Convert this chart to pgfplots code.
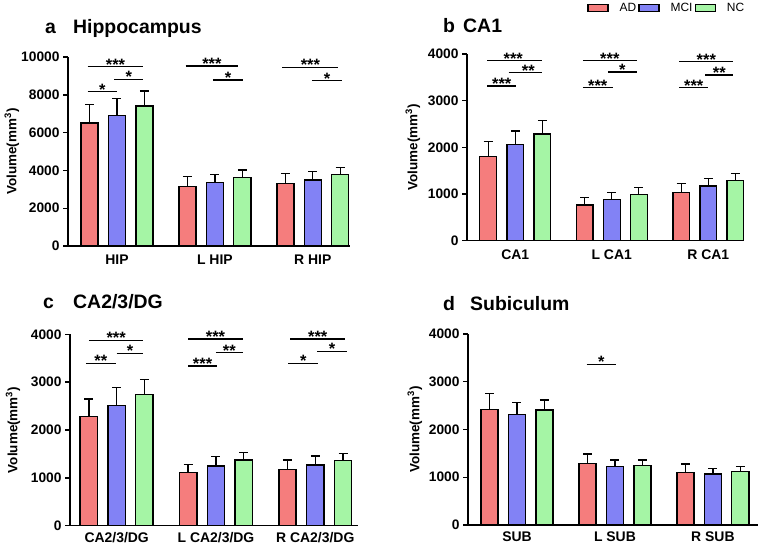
\documentclass[border=0pt]{standalone}
\usepackage{fontspec}
\setmainfont{Liberation Sans}
\usepackage{pgfplots}
\pgfplotsset{compat=1.18}
\definecolor{adred}{RGB}{245,125,125}
\definecolor{mciblue}{RGB}{130,130,245}
\definecolor{ncgreen}{RGB}{165,245,165}
\tikzset{stnode/.style={pos=0.5, anchor=base, yshift=-3.5bp, inner sep=0pt, text height=0.55em, text depth=0pt, font=\fontsize{16.5}{16}\selectfont\bfseries}}
\pgfplotsset{
 panel/.style={
  scale only axis, axis lines*=left, axis line style={line width=1.4bp},
  ymin=0, xtick={0,1,2}, xtick style={draw=none},
  tick align=outside, major tick length=5bp,
  ytick style={line width=1.4bp, black},
  yticklabel style={font=\fontsize{13.8}{14}\selectfont\bfseries},
  xticklabel style={font=\fontsize{14}{14}\selectfont\bfseries, yshift=-0.5bp},
  scaled y ticks=false,
  /pgf/number format/1000 sep={}, /pgf/number format/assume math mode=true,
  ylabel={Volume(mm\textsuperscript{3})},
  ylabel style={font=\fontsize{13.5}{14}\selectfont\bfseries, anchor=center},
  clip=false,
 },
 barp/.style={ybar, bar width=0.175, bar shift=0pt, fill=#1, draw=black, line width=1.4bp,
  error bars/.cd, y dir=plus, y explicit,
  error bar style={line width=1.4bp, black},
  error mark options={rotate=90, mark size=4.5bp, line width=1.4bp, black}},
 sig/.style={sharp plot, black, line width=1.4bp, mark=none, forget plot},
}
\begin{document}
\begin{tikzpicture}
\path[use as bounding box] (0,0) rectangle (759bp,-546bp);
% titles
\node[anchor=base west, inner sep=0, font=\fontsize{19.5}{20}\selectfont\bfseries] at (45bp,-33bp) {a};
\node[anchor=base west, inner sep=0, font=\fontsize{19.5}{20}\selectfont\bfseries] at (73bp,-33bp) {Hippocampus};
\node[anchor=base west, inner sep=0, font=\fontsize{19.5}{20}\selectfont\bfseries] at (443bp,-32bp) {b};
\node[anchor=base west, inner sep=0, font=\fontsize{19.5}{20}\selectfont\bfseries] at (463bp,-32bp) {CA1};
\node[anchor=base west, inner sep=0, font=\fontsize{19.5}{20}\selectfont\bfseries] at (43bp,-308bp) {c};
\node[anchor=base west, inner sep=0, font=\fontsize{19.5}{20}\selectfont\bfseries] at (73bp,-308bp) {CA2/3/DG};
\node[anchor=base west, inner sep=0, font=\fontsize{19.5}{20}\selectfont\bfseries] at (443bp,-310bp) {d};
\node[anchor=base west, inner sep=0, font=\fontsize{19.5}{20}\selectfont\bfseries] at (470bp,-310bp) {Subiculum};

% ---- a
\begin{axis}[panel, at={(68bp,-246bp)}, anchor=south west, width=282bp, height=189bp,
  xmin=-0.5, xmax=2.38, ymax=10000, ytick={0,2000,4000,6000,8000,10000},
  xticklabels={HIP, L HIP, R HIP},
  ylabel style={at={(axis description cs:-0.199,0.5)}}]
\addplot[barp=adred] coordinates {(-0.28,6500) +- (0,1000) (0.72,3150) +- (0,520) (1.72,3320) +- (0,530)};
\addplot[barp=mciblue] coordinates {(0,6900) +- (0,900) (1,3350) +- (0,440) (2,3490) +- (0,440)};
\addplot[barp=ncgreen] coordinates {(0.28,7400) +- (0,800) (1.28,3610) +- (0,410) (2.28,3790) +- (0,370)};
\addplot[sig] coordinates {(-0.30,9490) (0.27,9490)} node[stnode]{***};
\addplot[sig] coordinates {(-0.03,8820) (0.27,8820)} node[stnode]{*};
\addplot[sig] coordinates {(-0.30,8160) (0.0,8160)} node[stnode]{*};
\addplot[sig] coordinates {(0.70,9520) (1.24,9520)} node[stnode]{***};
\addplot[sig] coordinates {(0.98,8780) (1.29,8780)} node[stnode]{*};
\addplot[sig] coordinates {(1.69,9450) (2.26,9450)} node[stnode]{***};
\addplot[sig] coordinates {(1.99,8750) (2.30,8750)} node[stnode]{*};
\end{axis}

% ---- b
\begin{axis}[panel, at={(467bp,-240.7bp)}, anchor=south west, width=276bp, height=186.7bp,
  xmin=-0.5, xmax=2.36, ymax=4000, ytick={0,1000,2000,3000,4000},
  xticklabels={CA1, L CA1, R CA1},
  ylabel style={at={(axis description cs:-0.196,0.5)}},
  legend columns=3,
  legend style={draw=none, fill=none, at={(axis description cs:0.72,1.245)}, anchor=center,
    inner sep=0pt, outer sep=0pt,
    font=\fontsize{12}{12}\selectfont,
    nodes={inner xsep=0pt, inner ysep=1bp},
    /tikz/every even column/.append style={column sep=2bp}},
  legend image code/.code={\draw[#1, line width=1.4bp] (0bp,-3.5bp) rectangle (20bp,3.5bp); \path (31bp,0);}]
\addplot[barp=adred] coordinates {(-0.28,1800) +- (0,320) (0.72,765) +- (0,156) (1.72,1037) +- (0,184)};
\addplot[barp=mciblue] coordinates {(0,2065) +- (0,285) (1,887) +- (0,141) (2,1172) +- (0,165)};
\addplot[barp=ncgreen] coordinates {(0.28,2286) +- (0,285) (1.28,994) +- (0,150) (2.28,1286) +- (0,158)};
\legend{AD, MCI, NC}
\addplot[sig] coordinates {(-0.29,3857) (0.28,3857)} node[stnode, xshift=-1.5bp]{***};
\addplot[sig] coordinates {(-0.07,3600) (0.28,3600)} node[stnode, xshift=3bp]{**};
\addplot[sig] coordinates {(-0.29,3314) (0.01,3314)} node[stnode]{***};
\addplot[sig] coordinates {(0.70,3857) (1.26,3857)} node[stnode]{***};
\addplot[sig] coordinates {(0.96,3614) (1.26,3614)} node[stnode]{*};
\addplot[sig] coordinates {(0.70,3279) (1.01,3279)} node[stnode]{***};
\addplot[sig] coordinates {(1.70,3836) (2.26,3836)} node[stnode]{***};
\addplot[sig] coordinates {(1.97,3550) (2.26,3550)} node[stnode]{**};
\addplot[sig] coordinates {(1.70,3279) (2.00,3279)} node[stnode]{***};
\end{axis}

% ---- c
\begin{axis}[panel, at={(70bp,-525.7bp)}, anchor=south west, width=288bp, height=191.4bp,
  xmin=-0.47, xmax=2.43, ymax=4000, ytick={0,1000,2000,3000,4000},
  xticklabels={CA2/3/DG, L CA2/3/DG, R CA2/3/DG},
  xticklabel style={yshift=2.5bp},
  ylabel style={at={(axis description cs:-0.198,0.5)}}]
\addplot[barp=adred] coordinates {(-0.28,2279) +- (0,370) (0.72,1108) +- (0,176) (1.72,1179) +- (0,195)};
\addplot[barp=mciblue] coordinates {(0,2509) +- (0,376) (1,1248) +- (0,195) (2,1269) +- (0,188)};
\addplot[barp=ncgreen] coordinates {(0.28,2747) +- (0,314) (1.28,1374) +- (0,161) (2.28,1367) +- (0,147)};
\addplot[sig] coordinates {(-0.28,3876) (0.27,3876)} node[stnode]{***};
\addplot[sig] coordinates {(0.0,3604) (0.27,3604)} node[stnode]{*};
\addplot[sig] coordinates {(-0.31,3395) (-0.01,3395)} node[stnode]{**};
\addplot[sig] coordinates {(0.72,3904) (1.27,3904)} node[stnode]{***};
\addplot[sig] coordinates {(1.0,3617) (1.27,3617)} node[stnode]{**};
\addplot[sig] coordinates {(0.72,3339) (1.01,3339)} node[stnode]{***};
\addplot[sig] coordinates {(1.75,3904) (2.30,3904)} node[stnode]{***};
\addplot[sig] coordinates {(2.02,3645) (2.32,3645)} node[stnode]{*};
\addplot[sig] coordinates {(1.73,3395) (2.03,3395)} node[stnode]{*};
\end{axis}

% ---- d
\begin{axis}[panel, at={(468bp,-525bp)}, anchor=south west, width=290bp, height=191bp,
  xmin=-0.5, xmax=2.46, ymax=4000, ytick={0,1000,2000,3000,4000},
  xticklabels={SUB, L SUB, R SUB},
  xticklabel style={yshift=2.5bp},
  ylabel style={at={(axis description cs:-0.183,0.5)}}]
\addplot[barp=adred] coordinates {(-0.28,2422) +- (0,335) (0.72,1291) +- (0,196) (1.72,1103) +- (0,174)};
\addplot[barp=mciblue] coordinates {(0,2318) +- (0,251) (1,1222) +- (0,139) (2,1068) +- (0,119)};
\addplot[barp=ncgreen] coordinates {(0.28,2408) +- (0,210) (1.28,1243) +- (0,118) (2.28,1117) +- (0,105)};
\addplot[sig] coordinates {(0.71,3365) (1.01,3365)} node[stnode]{*};
\end{axis}
\end{tikzpicture}
\end{document}
